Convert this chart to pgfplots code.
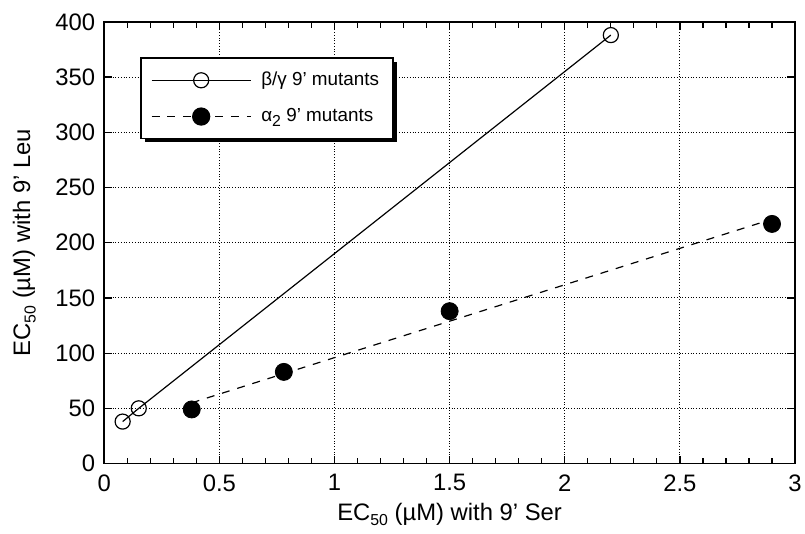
\documentclass[border=0pt]{standalone}
\usepackage{fontspec}
\setmainfont{Liberation Sans}
\usepackage{pgfplots}
\pgfplotsset{compat=1.18}
\usetikzlibrary{shadows}
\newcommand\sub[1]{\raisebox{-0.45ex}{\footnotesize #1}}
% the legend's drop shadow must not reach the sample lines inside it
\makeatletter
\tikzset{no preactions/.code={\let\tikz@preactions\pgfutil@empty}}
\makeatother

\begin{document}
\begin{tikzpicture}
\useasboundingbox (-52.5pt,-35pt) rectangle (353pt,233.5pt);
\begin{axis}[
  scale only axis,
  width=348pt, height=222.5pt,
  xmin=0, xmax=3, ymin=0, ymax=400,
  xtick={0,0.5,...,3}, ytick={0,50,...,400},
  minor x tick num=4,
  tick align=inside,
  major tick length=4pt, minor tick length=3pt,
  tick style={black, line width=0.6pt},
  axis line style={line width=0.8pt},
  grid=major,
  grid style={black, densely dotted, line width=0.5pt},
  font=\fontsize{12}{14}\selectfont,
  /pgf/number format/assume math mode=true,
  /pgf/number format/fixed,
  xticklabel style={yshift=-2pt},
  yticklabel style={xshift=-1pt},
  xlabel={EC\sub{50} (µM) with 9' Ser},
  ylabel={EC\sub{50} (µM) with 9' Leu},
  xlabel style={yshift=1pt},
  ylabel style={yshift=3pt},
  legend style={at={(rel axis cs:0.052,0.92)}, anchor=north west,
    draw=black, line width=0.9pt, fill=white,
    drop shadow={shadow xshift=2pt, shadow yshift=-2pt, fill=black, opacity=1},
    font=\fontsize{9.5}{11}\selectfont,
    row sep=6pt, inner xsep=5pt, inner ysep=5pt},
  legend cell align=left,
  legend image code/.code={
    \draw[no preactions, mark repeat=2, mark phase=2, #1] plot coordinates {(0pt,0pt) (25pt,0pt) (50pt,0pt)};
    \path (53pt,0pt);
  },
]
% beta/gamma 9' mutants
\addplot[black, line width=0.6pt, mark=o, mark size=3.8pt,
  mark options={solid, line width=0.6pt}] coordinates {
  (0.08,38) (0.15,50) (2.2,388)
};
\addlegendentry{β/γ 9' mutants}
% alpha2 9' mutants
\addplot[black, only marks, mark=*, mark size=4.3pt,
  forget plot] coordinates {
  (0.38,49) (0.78,83) (1.5,138) (2.9,217)
};
\addplot[black, line width=0.6pt, dash pattern=on 4pt off 4pt, mark=none,
  forget plot] coordinates {
  (0.38,55) (2.85,218)
};
\addlegendimage{black, line width=0.6pt, dash pattern=on 4pt off 4pt, mark=*, mark size=4.3pt, mark options={solid}}
\addlegendentry{α\sub{2} 9' mutants}
\end{axis}
\end{tikzpicture}
\end{document}
